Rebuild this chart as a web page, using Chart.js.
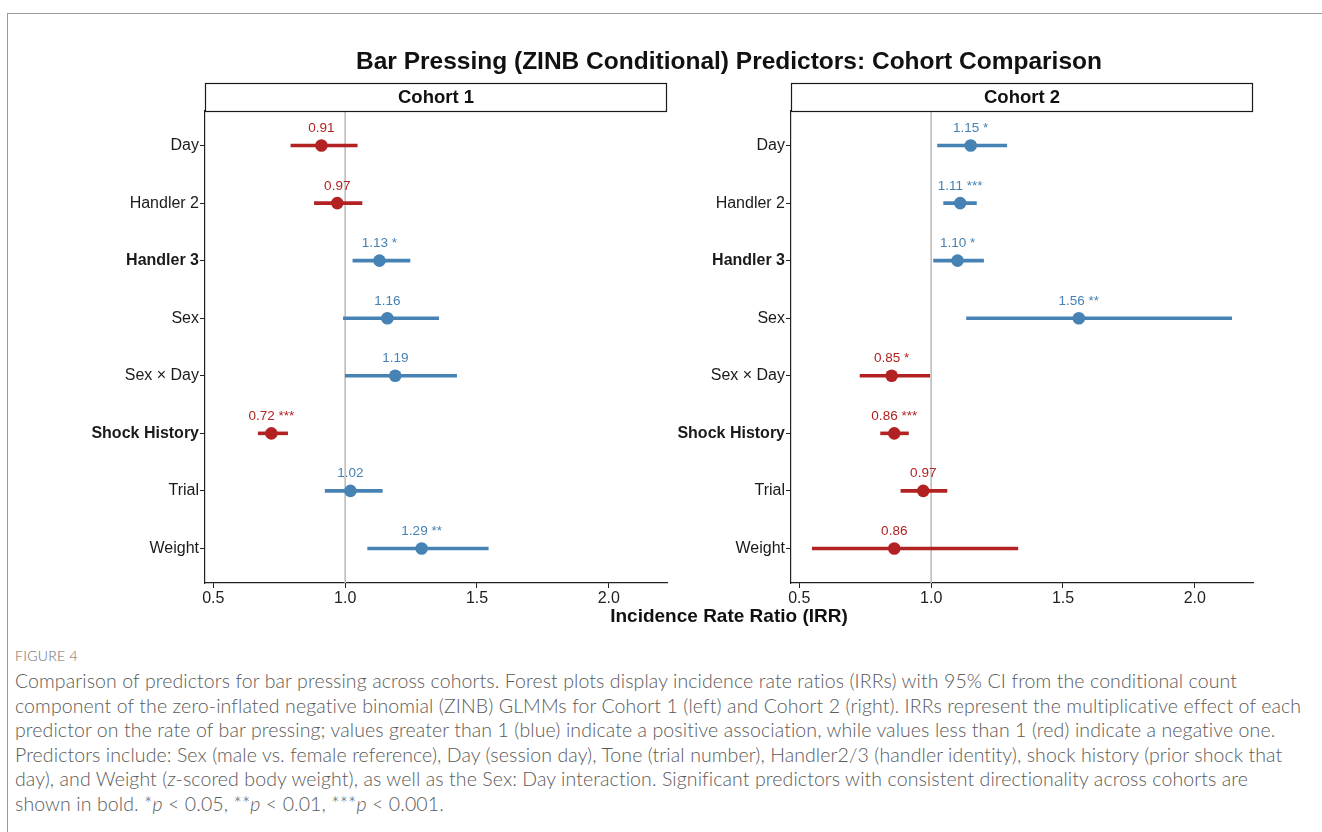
<!DOCTYPE html>
<html>
<head>
<meta charset="utf-8">
<script src="https://cdn.jsdelivr.net/npm/chart.js@4/dist/chart.umd.min.js"></script>
<style>
  html, body { margin: 0; padding: 0; background: #fff; width: 1322px; height: 832px; overflow: hidden; }
  #frame { position: absolute; left: 7px; top: 13px; right: -2px; bottom: -2px;
           border-left: 1.5px solid #9a9a9a; border-top: 1.5px solid #9a9a9a; }
  canvas { position: absolute; top: 0; }
  #c1 { left: 0; }
  #c2 { left: 640px; }
  .title { position: absolute; left: 205px; width: 1048px; text-align: center;
           font-family: "Liberation Sans", Arial, sans-serif; font-weight: bold; color: #111; white-space: nowrap; }
  #mainTitle { top: 46px; font-size: 24.5px; line-height: 30px; }
  #xTitle { top: 604px; font-size: 19px; line-height: 24px; }
  #caption { position: absolute; left: 15px; top: 646px; font-family: "Lato", "Open Sans", sans-serif;
             font-weight: 300; color: #5a5a5a; }
  #figLabel { font-size: 14px; letter-spacing: 0.3px; color: #6a6a6a; line-height: 20px; height: 23px; }
  .cap { font-size: 19.5px; letter-spacing: 0.1px; line-height: 24.5px; white-space: nowrap; }
</style>
</head>
<body>
<div id="frame"></div>
<canvas id="c1" width="680" height="640"></canvas>
<canvas id="c2" width="682" height="640"></canvas>
<div class="title" id="mainTitle">Bar Pressing (ZINB Conditional) Predictors: Cohort Comparison</div>
<div class="title" id="xTitle">Incidence Rate Ratio (IRR)</div>
<div id="caption">
  <div id="figLabel">FIGURE 4</div>
  <div class="cap">Comparison of predictors for bar pressing across cohorts. Forest plots display incidence rate ratios (IRRs) with 95% CI from the conditional count</div>
  <div class="cap">component of the zero-inflated negative binomial (ZINB) GLMMs for Cohort 1 (left) and Cohort 2 (right). IRRs represent the multiplicative effect of each</div>
  <div class="cap">predictor on the rate of bar pressing; values greater than 1 (blue) indicate a positive association, while values less than 1 (red) indicate a negative one.</div>
  <div class="cap">Predictors include: Sex (male vs. female reference), Day (session day), Tone (trial number), Handler2/3 (handler identity), shock history (prior shock that</div>
  <div class="cap">day), and Weight (<i>z</i>-scored body weight), as well as the Sex: Day interaction. Significant predictors with consistent directionality across cohorts are</div>
  <div class="cap">shown in bold. *<i>p</i> &lt; 0.05, **<i>p</i> &lt; 0.01, ***<i>p</i> &lt; 0.001.</div>
</div>

<script>
// Predictors, top to bottom
const predictors = ["Day", "Handler 2", "Handler 3", "Sex", "Sex \u00d7 Day", "Shock History", "Trial", "Weight"];
const boldPredictors = ["Handler 3", "Shock History"];

// Cohort 1: IRR estimates, 95% CI bounds, significance stars
const c1Irr   = [0.91, 0.97, 1.13, 1.16, 1.19, 0.72, 1.02, 1.29];
const c1Lower = [0.793, 0.882, 1.028, 0.992, 0.999, 0.669, 0.923, 1.084];
const c1Upper = [1.047, 1.065, 1.247, 1.356, 1.424, 0.783, 1.142, 1.544];
const c1Stars = ["", "", "*", "", "", "***", "", "**"];

// Cohort 2
const c2Irr   = [1.15, 1.11, 1.10, 1.56, 0.85, 0.86, 0.97, 0.86];
const c2Lower = [1.023, 1.046, 1.008, 1.133, 0.729, 0.807, 0.884, 0.548];
const c2Upper = [1.288, 1.173, 1.200, 2.141, 0.996, 0.915, 1.061, 1.330];
const c2Stars = ["*", "***", "*", "**", "*", "***", "", ""];

const xTickValues = [0.5, 1.0, 1.5, 2.0];
const REF_VALUE = 1.0;

const POS_COLOR = "#4682B4";
const NEG_COLOR = "#B22222";
const FONT = '"Liberation Sans", Arial, sans-serif';

// shared x range: data extent plus 5% on each side
const allLow = Math.min(...c1Lower, ...c2Lower);
const allHigh = Math.max(...c1Upper, ...c2Upper);
const pad = (allHigh - allLow) * 0.05;
const X_MIN = allLow - pad, X_MAX = allHigh + pad;

const colorFor = v => (v > REF_VALUE ? POS_COLOR : NEG_COLOR);

const forestExtras = {
  id: "forestExtras",
  beforeDatasetsDraw(chart) {
    const { ctx, chartArea, scales: { x } } = chart;
    const px = x.getPixelForValue(REF_VALUE);
    ctx.save();
    ctx.strokeStyle = "#bdbdbd";
    ctx.lineWidth = 1.6;
    ctx.beginPath();
    ctx.moveTo(px, chartArea.top);
    ctx.lineTo(px, chartArea.bottom);
    ctx.stroke();
    ctx.restore();
  },
  afterDatasetsDraw(chart, args, opts) {
    const { ctx, scales: { x, y } } = chart;
    ctx.save();
    ctx.font = "13.5px " + FONT;
    ctx.textAlign = "center";
    ctx.textBaseline = "alphabetic";
    opts.irr.forEach((v, i) => {
      const label = v.toFixed(2) + (opts.stars[i] ? " " + opts.stars[i] : "");
      ctx.fillStyle = colorFor(v);
      ctx.fillText(label, x.getPixelForValue(v), y.getPixelForValue(i) - 13.5);
    });
    ctx.restore();
  },
  afterDraw(chart, args, opts) {
    const { ctx, chartArea } = chart;
    const top = chartArea.top - 28, h = 28;
    ctx.save();
    ctx.fillStyle = "#fff";
    ctx.fillRect(chartArea.left, top, chartArea.right - chartArea.left, h);
    ctx.strokeStyle = "#1a1a1a";
    ctx.lineWidth = 1.2;
    ctx.strokeRect(chartArea.left + 0.5, top + 0.5, chartArea.right - chartArea.left - 1, h);
    ctx.fillStyle = "#111";
    ctx.font = "bold 18.5px " + FONT;
    ctx.textAlign = "center";
    ctx.textBaseline = "middle";
    ctx.fillText(opts.title, (chartArea.left + chartArea.right) / 2, top + h / 2 + 1);
    ctx.restore();
  }
};

function buildPanel(canvasId, title, irr, lower, upper, stars, axisWidth, rightPad) {
  const canvas = document.getElementById(canvasId);
  const ciSets = irr.map((v, i) => ({
    type: "line",
    data: [{ x: lower[i], y: i }, { x: upper[i], y: i }],
    borderColor: colorFor(v),
    borderWidth: 3.6,
    borderCapStyle: "butt",
    pointRadius: 0,
    showLine: true
  }));
  const pointSet = {
    type: "scatter",
    data: irr.map((v, i) => ({ x: v, y: i })),
    pointRadius: 6.3,
    pointBorderWidth: 0,
    pointBackgroundColor: irr.map(colorFor),
    pointBorderColor: irr.map(colorFor)
  };
  return new Chart(canvas, {
    type: "scatter",
    data: { datasets: [...ciSets, pointSet] },
    plugins: [forestExtras],
    options: {
      responsive: false,
      animation: false,
      devicePixelRatio: 1,
      layout: { padding: { left: 0, top: 111, right: rightPad, bottom: 0 } },
      plugins: {
        legend: { display: false },
        tooltip: { enabled: false },
        forestExtras: { title, irr, stars }
      },
      scales: {
        x: {
          type: "linear",
          min: X_MIN,
          max: X_MAX,
          afterBuildTicks: s => { s.ticks = xTickValues.map(v => ({ value: v })); },
          afterFit: s => { s.height = 57; },
          ticks: {
            callback: v => Number(v).toFixed(1),
            color: "#222",
            font: { family: FONT, size: 16 },
            padding: 1,
            maxRotation: 0
          },
          grid: { drawOnChartArea: false, drawTicks: true, tickLength: 5, color: "#222", lineWidth: 1 },
          border: { display: true, color: "#222", width: 1.2 }
        },
        y: {
          type: "linear",
          reverse: true,
          min: -0.6,
          max: predictors.length - 0.4,
          afterBuildTicks: s => { s.ticks = predictors.map((p, i) => ({ value: i })); },
          afterFit: s => { s.width = axisWidth; },
          ticks: {
            callback: v => predictors[Math.round(v)],
            color: "#1a1a1a",
            font: ctx => ({
              family: FONT,
              size: 16,
              weight: boldPredictors.includes(predictors[ctx.index]) ? "bold" : "normal"
            }),
            padding: 1
          },
          grid: { drawOnChartArea: false, drawTicks: true, tickLength: 5, color: "#222", lineWidth: 1 },
          border: { display: true, color: "#222", width: 1.2 }
        }
      }
    }
  });
}

buildPanel("c1", "Cohort 1", c1Irr, c1Lower, c1Upper, c1Stars, 205, 13);
buildPanel("c2", "Cohort 2", c2Irr, c2Lower, c2Upper, c2Stars, 151, 69);
</script>
</body>
</html>
